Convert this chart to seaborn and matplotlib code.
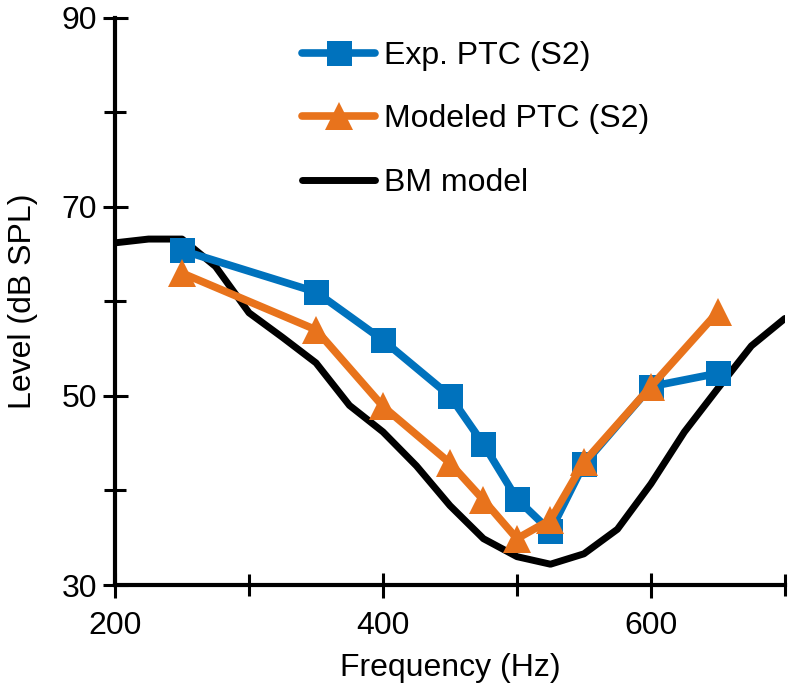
import matplotlib
matplotlib.use("Agg")
import matplotlib.pyplot as plt
from matplotlib.ticker import FixedLocator
import seaborn as sns
import pandas as pd

# PTC data
ptc_freq = [250, 350, 400, 450, 475, 500, 525, 550, 600, 650]
exp_ptc = [65.4, 61.0, 55.9, 50.0, 44.9, 39.1, 35.7, 42.8, 51.0, 52.4]
model_ptc = [63.0, 57.0, 48.9, 42.9, 39.0, 34.9, 36.9, 43.0, 51.0, 58.9]

# basilar membrane model curve
bm_freq = [200, 225, 250, 275, 300, 325, 350, 375, 400, 425, 450,
           475, 500, 525, 550, 575, 600, 625, 650, 675, 700]
bm_level = [66.2, 66.6, 66.6, 63.7, 58.8, 56.2, 53.5, 49.0, 46.2, 42.6, 38.4,
            34.9, 33.0, 32.2, 33.3, 35.9, 40.7, 46.2, 50.8, 55.3, 58.2]

x_major = [200, 400, 600]
x_minor = [300, 500, 700]
y_major = [30, 50, 70, 90]
y_minor = [40, 60, 80]

BLUE = "#0072BD"
ORANGE = "#E8731C"

sns.set_style("ticks")
plt.rcParams["font.family"] = ["Liberation Sans", "DejaVu Sans"]
plt.rcParams["font.size"] = 23
plt.rcParams["text.color"] = "black"
plt.rcParams["axes.labelcolor"] = "black"

exp_df = pd.DataFrame({"freq": ptc_freq, "level": exp_ptc})
mod_df = pd.DataFrame({"freq": ptc_freq, "level": model_ptc})
bm_df = pd.DataFrame({"freq": bm_freq, "level": bm_level})

fig = plt.figure(figsize=(7.89, 6.88), dpi=100)
ax = fig.add_axes([0.1458, 0.1497, 0.849, 0.8243])

sns.lineplot(data=exp_df, x="freq", y="level", ax=ax, color=BLUE, lw=5.5,
             marker="s", markersize=18, markeredgewidth=0,
             label="Exp. PTC (S2)", zorder=3)
sns.lineplot(data=mod_df, x="freq", y="level", ax=ax, color=ORANGE, lw=5.5,
             marker="^", markersize=20, markeredgewidth=0,
             label="Modeled PTC (S2)", zorder=4)
sns.lineplot(data=bm_df, x="freq", y="level", ax=ax, color="black", lw=5,
             label="BM model", zorder=2)

ax.set_xlim(200, 700)
ax.set_ylim(30, 90)
ax.xaxis.set_major_locator(FixedLocator(x_major))
ax.xaxis.set_minor_locator(FixedLocator(x_minor))
ax.yaxis.set_major_locator(FixedLocator(y_major))
ax.yaxis.set_minor_locator(FixedLocator(y_minor))
ax.tick_params(which="both", direction="inout", width=2.2, colors="black",
               labelsize=23)
ax.tick_params(which="major", length=18)
ax.tick_params(which="minor", length=16)
ax.tick_params(axis="x", pad=10)
ax.tick_params(axis="y", pad=4)

for side in ["top", "right"]:
    ax.spines[side].set_visible(False)
for side in ["left", "bottom"]:
    ax.spines[side].set_linewidth(3)
    ax.spines[side].set_color("black")

ax.set_xlabel("Frequency (Hz)", fontsize=23, labelpad=8)
ax.set_ylabel("Level (dB SPL)", fontsize=23, labelpad=17)

ax.legend(loc="upper left", bbox_to_anchor=(0.26, 0.982), frameon=False,
          fontsize=23, handlelength=2.3, handletextpad=0.28,
          labelspacing=1.05, borderaxespad=0)

fig.savefig("out.png", dpi=100)
